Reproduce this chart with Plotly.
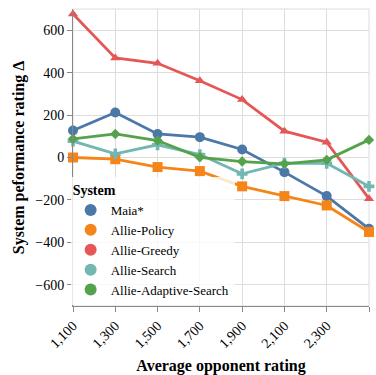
import plotly.graph_objects as go

ratings = [1100, 1300, 1500, 1700, 1900, 2100, 2300, 2500]

systems = ["Maia*", "Allie-Policy", "Allie-Greedy", "Allie-Search", "Allie-Adaptive-Search"]
maia = [127, 212, 111, 96, 38, -69, -182, -336]
allie_policy = [0, -8, -45, -64, -136, -182, -226, -351]
allie_greedy = [676, 469, 444, 362, 273, 124, 72, -194]
allie_search = [77, 17, 60, 14, -77, -27, -27, -136]
allie_adaptive = [88, 111, 80, 1, -19, -30, -11, 83]

series = [maia, allie_policy, allie_greedy, allie_search, allie_adaptive]
colors = ["#4c78a8", "#f58518", "#e45756", "#72b7b2", "#54a24b"]
symbols = ["circle", "square", "triangle-up", "cross", "diamond"]
sizes = [10, 10, 9, 9, 8]

FONT = "'Liberation Serif', 'DejaVu Serif', serif"

fig = go.Figure()
for name, vals, col, sym, sz in zip(systems, series, colors, symbols, sizes):
    fig.add_trace(go.Scatter(
        x=ratings, y=vals, mode="lines+markers", name=name,
        line=dict(color=col, width=2.8),
        marker=dict(symbol=sym, size=sz, color=col),
        cliponaxis=False, showlegend=False,
    ))

# legend entries shown as filled circles
for name, col in zip(systems, colors):
    fig.add_trace(go.Scatter(
        x=[None], y=[None], mode="markers", name=name,
        marker=dict(symbol="circle", size=12, color=col),
        showlegend=True,
    ))

fig.update_layout(
    width=376, height=375,
    margin=dict(l=73, r=7, t=9, b=69, autoexpand=False),
    paper_bgcolor="white", plot_bgcolor="white",
    font=dict(family=FONT, size=14, color="#000"),
    legend=dict(
        x=-0.008, y=0.435, xanchor="left", yanchor="top",
        bgcolor="rgba(255,255,255,0.8)",
        title=dict(text="<b>System</b>", font=dict(size=14)),
        font=dict(size=13), tracegroupgap=0, itemwidth=30,
    ),
    shapes=[dict(type="rect", xref="paper", yref="paper", x0=0, x1=1, y0=0, y1=1,
                 line=dict(color="#ddd", width=1), layer="below")],
)

fig.update_xaxes(
    range=[1100, 2500], tickvals=ratings, tickformat=",d", tickangle=-45,
    showgrid=True, gridcolor="#ddd", gridwidth=1,
    showline=True, linecolor="#888", linewidth=1,
    ticks="outside", ticklen=5, tickcolor="#888", automargin=False,
    zeroline=False, tickfont=dict(size=14),
    title=dict(text="<b>Average opponent rating</b>", font=dict(size=16), standoff=10),
)
fig.update_yaxes(
    range=[-700, 700], tick0=0, dtick=200,
    showgrid=True, gridcolor="#ddd", gridwidth=1,
    showline=True, linecolor="#888", linewidth=1,
    ticks="outside", ticklen=5, tickcolor="#888", automargin=False,
    zeroline=False, tickfont=dict(size=14),
    title=dict(text="<b>System peformance rating Δ</b>", font=dict(size=16), standoff=6),
)

fig.write_html("out.html")
